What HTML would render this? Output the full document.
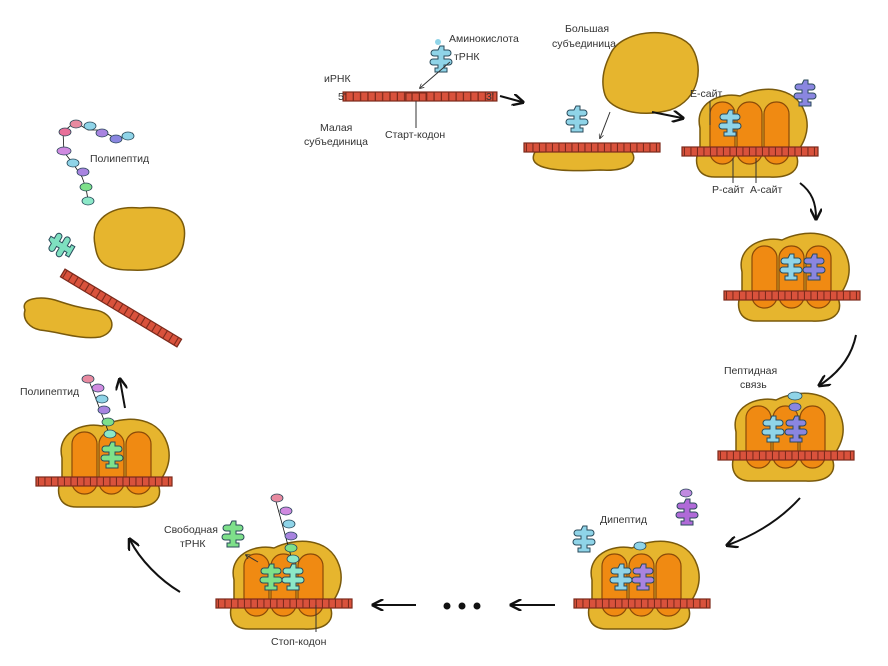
<!DOCTYPE html>
<html><head><meta charset="utf-8"><style>
body{margin:0;background:#fff;}
svg{display:block;font-family:"Liberation Sans","Noto Sans CJK SC",sans-serif;}
text{font-size:10.5px;fill:#333;}
</style></head><body>
<svg width="888" height="666" viewBox="0 0 888 666" xmlns="http://www.w3.org/2000/svg">
<defs>
<pattern id="st" width="6.5" height="12" patternUnits="userSpaceOnUse">
<rect width="6.5" height="12" fill="#d9523c"/><line x1="6" y1="0" x2="6" y2="12" stroke="#7c2a1c" stroke-width="1.2"/>
</pattern>
<g id="strip"><rect x="-68" y="0" width="136" height="9" fill="url(#st)" stroke="#7c2a1c" stroke-width="1.2"/></g>
<g id="blob"><path d="M-50,-20 C-56,-45 -30,-56 -10,-52 C10,-62 45,-64 55,-35 C62,-15 50,0 46,6 C52,22 40,30 20,29 L-35,29 C-56,29 -56,10 -50,0 Z" fill="#e6b52e" stroke="#7a5a0c" stroke-width="1.5"/></g>
<g id="sites">
<rect x="-40" y="-46" width="25" height="62" rx="12" fill="#f08a12" stroke="#8a4a08" stroke-width="1.2"/>
<rect x="-13" y="-46" width="25" height="62" rx="12" fill="#f08a12" stroke="#8a4a08" stroke-width="1.2"/>
<rect x="14" y="-46" width="25" height="62" rx="12" fill="#f08a12" stroke="#8a4a08" stroke-width="1.2"/>
</g>
<g id="trna"><path d="M-2,-14 h4 v4 h4 a3,3 0 0 1 0,6 h-4 v3 h5 a3,3 0 0 1 0,6 h-5 v3 h3 v4 h-12 v-4 h3 v-3 h-5 a3,3 0 0 1 0,-6 h5 v-3 h-4 a3,3 0 0 1 0,-6 h4 Z" stroke="#2a4a5a" stroke-width="1"/></g>
<marker id="ah" viewBox="0 0 10 10" refX="8" refY="5" markerWidth="6" markerHeight="6" orient="auto"><path d="M0,0 L10,5 L0,10" fill="none" stroke="#111" stroke-width="2"/></marker>
<marker id="as" viewBox="0 0 10 10" refX="8" refY="5" markerWidth="5" markerHeight="5" orient="auto"><path d="M0,0 L10,5 L0,10" fill="none" stroke="#333" stroke-width="1.5"/></marker>
</defs>

<!-- Stage 1 -->
<use href="#strip" transform="translate(420,92) scale(1.13,1)"/>
<use href="#trna" fill="#8fd4e8" transform="translate(442,60)"/>
<circle cx="438" cy="42" r="3" fill="#8fd4e8"/>
<rect x="406" y="93" width="20" height="8" fill="none" stroke="#7c2a1c"/>
<text x="449" y="42">Аминокислота</text><text x="454" y="60">тРНК</text>
<text x="324" y="82">иРНК</text><text x="338" y="100">5'</text><text x="486" y="100">3'</text>
<text x="320" y="131">Малая</text><text x="304" y="145">субъединица</text>
<text x="385" y="138">Старт-кодон</text>
<line x1="416" y1="101" x2="416" y2="128" stroke="#333"/>
<line x1="450" y1="62" x2="420" y2="88" stroke="#333" marker-end="url(#as)"/>
<path d="M500,96 L522,102" stroke="#111" stroke-width="2" fill="none" marker-end="url(#ah)"/>

<!-- Stage 2 -->
<path d="M535,152 C525,170 560,172 600,170 C630,172 640,160 630,150 Z" fill="#e6b52e" stroke="#7a5a0c" stroke-width="1.5"/>
<use href="#strip" transform="translate(592,143)"/>
<use href="#trna" fill="#8fd4e8" transform="translate(578,120)"/>
<path d="M610,55 C620,30 670,25 690,45 C705,65 700,100 670,110 C640,118 610,110 605,95 C600,80 605,65 610,55 Z" fill="#e6b52e" stroke="#7a5a0c" stroke-width="1.5"/>
<text x="565" y="32">Большая</text><text x="552" y="47">субъединица</text>
<line x1="610" y1="112" x2="600" y2="138" stroke="#333" marker-end="url(#as)"/>
<path d="M652,112 L682,118" stroke="#111" stroke-width="2" fill="none" marker-end="url(#ah)"/>

<!-- Stage 3 -->
<use href="#blob" transform="translate(750,148)"/>
<use href="#sites" transform="translate(750,148)"/>
<use href="#strip" transform="translate(750,147)"/>
<use href="#trna" fill="#8fd4e8" transform="translate(731,124)"/>
<use href="#trna" fill="#8a86e0" transform="translate(806,94)"/>
<text x="690" y="97">Е-сайт</text><text x="712" y="193">Р-сайт</text><text x="750" y="193">А-сайт</text>
<line x1="710" y1="101" x2="710" y2="125" stroke="#333"/>
<line x1="733" y1="158" x2="733" y2="183" stroke="#333"/><line x1="756" y1="158" x2="756" y2="183" stroke="#333"/>
<path d="M800,183 C812,192 816,203 816,218" stroke="#111" stroke-width="2" fill="none" marker-end="url(#ah)"/>

<!-- Stage 4 -->
<use href="#blob" transform="translate(792,292)"/>
<use href="#sites" transform="translate(792,292)"/>
<use href="#strip" transform="translate(792,291)"/>
<use href="#trna" fill="#8fd4e8" transform="translate(792,268)"/>
<use href="#trna" fill="#8a86e0" transform="translate(815,268)"/>
<path d="M856,335 C852,355 840,372 820,385" stroke="#111" stroke-width="2" fill="none" marker-end="url(#ah)"/>

<!-- Stage 5 -->
<use href="#blob" transform="translate(786,452)"/>
<use href="#sites" transform="translate(786,452)"/>
<use href="#strip" transform="translate(786,451)"/>
<use href="#trna" fill="#8fd4e8" transform="translate(774,430)"/>
<use href="#trna" fill="#8a86e0" transform="translate(797,430)"/>
<ellipse cx="795" cy="396" rx="7" ry="4" fill="#8fd4e8" stroke="#2a4a5a" stroke-width="0.8"/>
<ellipse cx="795" cy="407" rx="6" ry="4" fill="#8a86e0" stroke="#2a4a5a" stroke-width="0.8"/>
<text x="724" y="374">Пептидная</text><text x="740" y="388">связь</text>
<path d="M800,498 C780,520 755,535 728,545" stroke="#111" stroke-width="2" fill="none" marker-end="url(#ah)"/>

<!-- Stage 6 -->
<use href="#blob" transform="translate(642,600)"/>
<use href="#sites" transform="translate(642,600)"/>
<use href="#strip" transform="translate(642,599)"/>
<use href="#trna" fill="#8fd4e8" transform="translate(622,578)"/>
<use href="#trna" fill="#a884e0" transform="translate(644,578)"/>
<use href="#trna" fill="#8fd4e8" transform="translate(585,540)"/>
<use href="#trna" fill="#b06ad8" transform="translate(688,513)"/>
<ellipse cx="686" cy="493" rx="6" ry="4" fill="#c08ae0" stroke="#2a4a5a" stroke-width="0.8"/>
<ellipse cx="640" cy="546" rx="6" ry="4" fill="#8fd4e8" stroke="#2a4a5a" stroke-width="0.8"/>
<text x="600" y="523">Дипептид</text>
<path d="M555,605 L512,605" stroke="#111" stroke-width="2" fill="none" marker-end="url(#ah)"/>
<circle cx="447" cy="606" r="3.5" fill="#111"/><circle cx="462" cy="606" r="3.5" fill="#111"/><circle cx="477" cy="606" r="3.5" fill="#111"/>
<path d="M416,605 L374,605" stroke="#111" stroke-width="2" fill="none" marker-end="url(#ah)"/>

<!-- Stage 7 -->
<use href="#blob" transform="translate(284,600)"/>
<use href="#sites" transform="translate(284,600)"/>
<use href="#strip" transform="translate(284,599)"/>
<use href="#trna" fill="#7ee08a" transform="translate(272,578)"/>
<use href="#trna" fill="#8ce8c8" transform="translate(294,578)"/>
<use href="#trna" fill="#7ee08a" transform="translate(234,535)"/>
<g stroke="#2a4a5a" stroke-width="0.8">
<line x1="275" y1="498" x2="292" y2="560" stroke="#111"/>
<ellipse cx="277" cy="498" rx="6" ry="4" fill="#e88aa0"/>
<ellipse cx="286" cy="511" rx="6" ry="4" fill="#d08ae0"/>
<ellipse cx="289" cy="524" rx="6" ry="4" fill="#8fd4e8"/>
<ellipse cx="291" cy="536" rx="6" ry="4" fill="#a884e0"/>
<ellipse cx="291" cy="548" rx="6" ry="4" fill="#7ee08a"/>
<ellipse cx="293" cy="559" rx="6" ry="4" fill="#8ce8c8"/>
</g>
<text x="164" y="533">Свободная</text><text x="180" y="547">тРНК</text>
<line x1="258" y1="562" x2="246" y2="555" stroke="#333" marker-end="url(#as)"/>
<text x="271" y="645">Стоп-кодон</text>
<line x1="316" y1="605" x2="316" y2="632" stroke="#333"/>
<path d="M180,592 C160,580 140,560 130,540" stroke="#111" stroke-width="2" fill="none" marker-end="url(#ah)"/>

<!-- Stage 8 -->
<use href="#blob" transform="translate(112,478)"/>
<use href="#sites" transform="translate(112,478)"/>
<use href="#strip" transform="translate(104,477)"/>
<use href="#trna" fill="#7ee08a" transform="translate(113,456)"/>
<g stroke="#2a4a5a" stroke-width="0.8">
<line x1="88" y1="378" x2="110" y2="436" stroke="#111"/>
<ellipse cx="88" cy="379" rx="6" ry="4" fill="#e88aa0"/>
<ellipse cx="98" cy="388" rx="6" ry="4" fill="#d08ae0"/>
<ellipse cx="102" cy="399" rx="6" ry="4" fill="#8fd4e8"/>
<ellipse cx="104" cy="410" rx="6" ry="4" fill="#a884e0"/>
<ellipse cx="108" cy="422" rx="6" ry="4" fill="#7ee08a"/>
<ellipse cx="110" cy="434" rx="6" ry="4" fill="#8ce8c8"/>
</g>
<text x="20" y="395">Полипептид</text>
<path d="M125,408 L120,380" stroke="#111" stroke-width="2" fill="none" marker-end="url(#ah)"/>

<!-- Stage 9 -->
<path d="M95,245 C90,220 110,205 140,208 C170,205 188,215 184,240 C182,260 165,272 130,270 C100,270 97,258 95,245 Z" fill="#e6b52e" stroke="#7a5a0c" stroke-width="1.5"/>
<path d="M25,310 C20,298 40,296 55,300 C70,305 80,308 95,310 C115,313 118,332 100,337 C80,340 60,332 40,330 C30,328 22,320 25,310 Z" fill="#e6b52e" stroke="#7a5a0c" stroke-width="1.5"/>
<g transform="translate(121,308) rotate(31)"><rect x="-68" y="-4.5" width="136" height="9" fill="url(#st)" stroke="#7c2a1c" stroke-width="1.2"/></g>
<use href="#trna" fill="#7ee0c0" transform="translate(62,245) rotate(-60)"/>
<g stroke="#2a4a5a" stroke-width="0.8">
<path d="M133,133 L117,139 L100,130 L88,130 L75,122 L63,132 L64,152 L74,165 L82,177 L86,188 L88,200" fill="none" stroke="#111"/>
<ellipse cx="128" cy="136" rx="6" ry="4" fill="#8fd4e8"/>
<ellipse cx="116" cy="139" rx="6" ry="4" fill="#8a86e0"/>
<ellipse cx="102" cy="133" rx="6" ry="4" fill="#a884e0"/>
<ellipse cx="90" cy="126" rx="6" ry="4" fill="#8fd4e8"/>
<ellipse cx="76" cy="124" rx="6" ry="4" fill="#e88aa0"/>
<ellipse cx="65" cy="132" rx="6" ry="4" fill="#e87098"/>
<ellipse cx="64" cy="151" rx="7" ry="4" fill="#d08ae0"/>
<ellipse cx="73" cy="163" rx="6" ry="4" fill="#8fd4e8"/>
<ellipse cx="83" cy="172" rx="6" ry="4" fill="#a884e0"/>
<ellipse cx="86" cy="187" rx="6" ry="4" fill="#7ee08a"/>
<ellipse cx="88" cy="201" rx="6" ry="4" fill="#8ce8c8"/>
</g>
<text x="90" y="162">Полипептид</text>
</svg>
</body></html>
